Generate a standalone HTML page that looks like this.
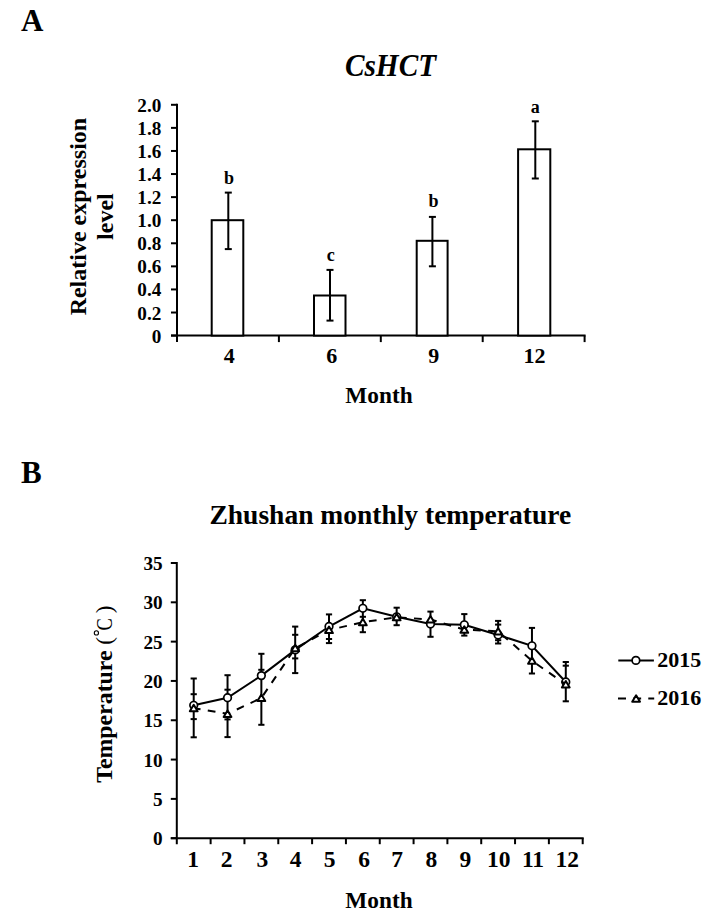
<!DOCTYPE html>
<html><head><meta charset="utf-8"><style>
html,body{margin:0;padding:0;background:#fff;}
svg{display:block;}
.t{font-family:"Liberation Serif", serif;fill:#000;stroke:none;}
.tk{font-size:19.2px;font-weight:bold;}
.xl{font-size:22px;font-weight:bold;}
.xlb{font-size:23.5px;font-weight:bold;}
.lab{font-size:18px;font-weight:bold;}
.ttl{font-size:23.3px;font-weight:bold;}
.yt{font-size:24px;font-weight:bold;}
.tt2{font-size:23.8px;font-weight:bold;}
.ti{font-size:31.5px;font-weight:bold;font-style:italic;}
.pl{font-size:31px;font-weight:bold;}
.bt{font-size:27.5px;font-weight:bold;}
.lg{font-size:22px;font-weight:bold;}
.ttr{font-size:23px;font-weight:normal;}
</style></head><body>
<svg width="716" height="917" viewBox="0 0 716 917" stroke="#000" stroke-width="2" fill="none">
<rect x="0" y="0" width="716" height="917" fill="#fff" stroke="none"/>
<line x1="177.0" y1="103.8" x2="177.0" y2="342.1" />
<line x1="171.0" y1="335.6" x2="585.6" y2="335.6" />
<line x1="171.0" y1="335.60" x2="177.0" y2="335.60" />
<line x1="171.0" y1="312.52" x2="177.0" y2="312.52" />
<line x1="171.0" y1="289.44" x2="177.0" y2="289.44" />
<line x1="171.0" y1="266.36" x2="177.0" y2="266.36" />
<line x1="171.0" y1="243.28" x2="177.0" y2="243.28" />
<line x1="171.0" y1="220.20" x2="177.0" y2="220.20" />
<line x1="171.0" y1="197.12" x2="177.0" y2="197.12" />
<line x1="171.0" y1="174.04" x2="177.0" y2="174.04" />
<line x1="171.0" y1="150.96" x2="177.0" y2="150.96" />
<line x1="171.0" y1="127.88" x2="177.0" y2="127.88" />
<line x1="171.0" y1="104.80" x2="177.0" y2="104.80" />
<line x1="278.90" y1="335.6" x2="278.90" y2="342.1" />
<line x1="380.80" y1="335.6" x2="380.80" y2="342.1" />
<line x1="482.70" y1="335.6" x2="482.70" y2="342.1" />
<line x1="584.60" y1="335.6" x2="584.60" y2="342.1" />
<rect x="211.70" y="220.20" width="31.60" height="115.40" fill="#fff" />
<line x1="228.30" y1="192.60" x2="228.30" y2="249.10" />
<line x1="224.80" y1="192.60" x2="231.80" y2="192.60" />
<line x1="224.80" y1="249.10" x2="231.80" y2="249.10" />
<text x="229.10" y="183.60" class="t lab" text-anchor="middle">b</text>
<rect x="314.00" y="295.50" width="31.50" height="40.10" fill="#fff" />
<line x1="330.00" y1="269.90" x2="330.00" y2="320.60" />
<line x1="326.50" y1="269.90" x2="333.50" y2="269.90" />
<line x1="326.50" y1="320.60" x2="333.50" y2="320.60" />
<text x="330.75" y="261.40" class="t lab" text-anchor="middle">c</text>
<rect x="416.70" y="240.80" width="30.90" height="94.80" fill="#fff" />
<line x1="432.40" y1="216.90" x2="432.40" y2="266.30" />
<line x1="428.90" y1="216.90" x2="435.90" y2="216.90" />
<line x1="428.90" y1="266.30" x2="435.90" y2="266.30" />
<text x="433.40" y="207.10" class="t lab" text-anchor="middle">b</text>
<rect x="518.10" y="149.30" width="32.20" height="186.30" fill="#fff" />
<line x1="535.30" y1="121.30" x2="535.30" y2="178.50" />
<line x1="531.80" y1="121.30" x2="538.80" y2="121.30" />
<line x1="531.80" y1="178.50" x2="538.80" y2="178.50" />
<text x="535.30" y="113.10" class="t lab" text-anchor="middle">a</text>
<text x="161.3" y="342.60" class="t tk" text-anchor="end">0</text>
<text x="161.3" y="319.52" class="t tk" text-anchor="end">0.2</text>
<text x="161.3" y="296.44" class="t tk" text-anchor="end">0.4</text>
<text x="161.3" y="273.36" class="t tk" text-anchor="end">0.6</text>
<text x="161.3" y="250.28" class="t tk" text-anchor="end">0.8</text>
<text x="161.3" y="227.20" class="t tk" text-anchor="end">1.0</text>
<text x="161.3" y="204.12" class="t tk" text-anchor="end">1.2</text>
<text x="161.3" y="181.04" class="t tk" text-anchor="end">1.4</text>
<text x="161.3" y="157.96" class="t tk" text-anchor="end">1.6</text>
<text x="161.3" y="134.88" class="t tk" text-anchor="end">1.8</text>
<text x="161.3" y="111.80" class="t tk" text-anchor="end">2.0</text>
<text x="229.20" y="362.8" class="t xl" text-anchor="middle">4</text>
<text x="331.65" y="362.8" class="t xl" text-anchor="middle">6</text>
<text x="433.70" y="362.8" class="t xl" text-anchor="middle">9</text>
<text x="534.50" y="362.8" class="t xl" text-anchor="middle">12</text>
<text x="379" y="402.5" class="t ttl" text-anchor="middle">Month</text>
<text transform="translate(86,216.6) rotate(-90)" class="t yt" text-anchor="middle">Relative expression</text>
<text transform="translate(112.7,216.6) rotate(-90)" class="t yt" text-anchor="middle">level</text>
<text transform="translate(390.5,76.3) scale(0.93,1)" class="t ti" text-anchor="middle">CsHCT</text>
<text x="21" y="31" class="t pl">A</text>
<text x="21" y="482.6" class="t pl">B</text>
<text x="390.3" y="524.3" class="t bt" text-anchor="middle">Zhushan monthly temperature</text>
<line x1="176.8" y1="562.0" x2="176.8" y2="844.2" />
<line x1="170.8" y1="838.2" x2="583.7" y2="838.2" />
<line x1="170.8" y1="838.20" x2="176.8" y2="838.20" />
<text x="162.6" y="845.30" class="t tk" text-anchor="end">0</text>
<line x1="170.8" y1="798.89" x2="176.8" y2="798.89" />
<text x="162.6" y="805.99" class="t tk" text-anchor="end">5</text>
<line x1="170.8" y1="759.57" x2="176.8" y2="759.57" />
<text x="162.6" y="766.67" class="t tk" text-anchor="end">10</text>
<line x1="170.8" y1="720.26" x2="176.8" y2="720.26" />
<text x="162.6" y="727.36" class="t tk" text-anchor="end">15</text>
<line x1="170.8" y1="680.94" x2="176.8" y2="680.94" />
<text x="162.6" y="688.04" class="t tk" text-anchor="end">20</text>
<line x1="170.8" y1="641.63" x2="176.8" y2="641.63" />
<text x="162.6" y="648.73" class="t tk" text-anchor="end">25</text>
<line x1="170.8" y1="602.31" x2="176.8" y2="602.31" />
<text x="162.6" y="609.41" class="t tk" text-anchor="end">30</text>
<line x1="170.8" y1="563.00" x2="176.8" y2="563.00" />
<text x="162.6" y="570.10" class="t tk" text-anchor="end">35</text>
<line x1="210.62" y1="838.2" x2="210.62" y2="844.2" />
<line x1="244.45" y1="838.2" x2="244.45" y2="844.2" />
<line x1="278.28" y1="838.2" x2="278.28" y2="844.2" />
<line x1="312.10" y1="838.2" x2="312.10" y2="844.2" />
<line x1="345.93" y1="838.2" x2="345.93" y2="844.2" />
<line x1="379.75" y1="838.2" x2="379.75" y2="844.2" />
<line x1="413.58" y1="838.2" x2="413.58" y2="844.2" />
<line x1="447.40" y1="838.2" x2="447.40" y2="844.2" />
<line x1="481.23" y1="838.2" x2="481.23" y2="844.2" />
<line x1="515.05" y1="838.2" x2="515.05" y2="844.2" />
<line x1="548.88" y1="838.2" x2="548.88" y2="844.2" />
<line x1="582.70" y1="838.2" x2="582.70" y2="844.2" />
<text x="193.01" y="867.2" class="t xlb" text-anchor="middle">1</text>
<text x="226.74" y="867.2" class="t xlb" text-anchor="middle">2</text>
<text x="262.26" y="867.2" class="t xlb" text-anchor="middle">3</text>
<text x="295.74" y="867.2" class="t xlb" text-anchor="middle">4</text>
<text x="329.61" y="867.2" class="t xlb" text-anchor="middle">5</text>
<text x="364.19" y="867.2" class="t xlb" text-anchor="middle">6</text>
<text x="397.11" y="867.2" class="t xlb" text-anchor="middle">7</text>
<text x="431.34" y="867.2" class="t xlb" text-anchor="middle">8</text>
<text x="465.31" y="867.2" class="t xlb" text-anchor="middle">9</text>
<text x="498.84" y="867.2" class="t xlb" text-anchor="middle">10</text>
<text x="533.01" y="867.2" class="t xlb" text-anchor="middle">11</text>
<text x="567.24" y="867.2" class="t xlb" text-anchor="middle">12</text>
<text x="379" y="907.5" class="t ttl" text-anchor="middle">Month</text>
<line x1="193.71" y1="678.50" x2="193.71" y2="737.30" />
<line x1="190.61" y1="678.50" x2="196.81" y2="678.50" />
<line x1="190.61" y1="694.20" x2="196.81" y2="694.20" />
<line x1="190.61" y1="719.10" x2="196.81" y2="719.10" />
<line x1="190.61" y1="737.30" x2="196.81" y2="737.30" />
<line x1="227.54" y1="675.20" x2="227.54" y2="737.10" />
<line x1="224.44" y1="675.20" x2="230.64" y2="675.20" />
<line x1="224.44" y1="689.70" x2="230.64" y2="689.70" />
<line x1="224.44" y1="719.40" x2="230.64" y2="719.40" />
<line x1="224.44" y1="737.10" x2="230.64" y2="737.10" />
<line x1="261.36" y1="653.80" x2="261.36" y2="724.80" />
<line x1="258.26" y1="653.80" x2="264.46" y2="653.80" />
<line x1="258.26" y1="669.80" x2="264.46" y2="669.80" />
<line x1="258.26" y1="724.80" x2="264.46" y2="724.80" />
<line x1="295.19" y1="626.60" x2="295.19" y2="673.10" />
<line x1="292.09" y1="626.60" x2="298.29" y2="626.60" />
<line x1="292.09" y1="634.80" x2="298.29" y2="634.80" />
<line x1="292.09" y1="658.40" x2="298.29" y2="658.40" />
<line x1="292.09" y1="673.10" x2="298.29" y2="673.10" />
<line x1="329.01" y1="614.40" x2="329.01" y2="643.10" />
<line x1="325.91" y1="614.40" x2="332.11" y2="614.40" />
<line x1="325.91" y1="639.00" x2="332.11" y2="639.00" />
<line x1="325.91" y1="643.10" x2="332.11" y2="643.10" />
<line x1="362.84" y1="600.20" x2="362.84" y2="632.20" />
<line x1="359.74" y1="600.20" x2="365.94" y2="600.20" />
<line x1="359.74" y1="616.80" x2="365.94" y2="616.80" />
<line x1="359.74" y1="632.20" x2="365.94" y2="632.20" />
<line x1="396.66" y1="607.70" x2="396.66" y2="625.20" />
<line x1="393.56" y1="607.70" x2="399.76" y2="607.70" />
<line x1="393.56" y1="625.20" x2="399.76" y2="625.20" />
<line x1="430.49" y1="611.60" x2="430.49" y2="636.80" />
<line x1="427.39" y1="611.60" x2="433.59" y2="611.60" />
<line x1="427.39" y1="636.80" x2="433.59" y2="636.80" />
<line x1="464.31" y1="614.10" x2="464.31" y2="635.60" />
<line x1="461.21" y1="614.10" x2="467.41" y2="614.10" />
<line x1="461.21" y1="635.60" x2="467.41" y2="635.60" />
<line x1="498.14" y1="620.90" x2="498.14" y2="643.50" />
<line x1="495.04" y1="620.90" x2="501.24" y2="620.90" />
<line x1="495.04" y1="624.60" x2="501.24" y2="624.60" />
<line x1="495.04" y1="640.20" x2="501.24" y2="640.20" />
<line x1="495.04" y1="643.50" x2="501.24" y2="643.50" />
<line x1="531.96" y1="627.90" x2="531.96" y2="673.50" />
<line x1="528.86" y1="627.90" x2="535.06" y2="627.90" />
<line x1="528.86" y1="673.50" x2="535.06" y2="673.50" />
<line x1="565.79" y1="662.00" x2="565.79" y2="701.30" />
<line x1="562.69" y1="662.00" x2="568.89" y2="662.00" />
<line x1="562.69" y1="665.70" x2="568.89" y2="665.70" />
<line x1="562.69" y1="701.30" x2="568.89" y2="701.30" />
<polyline points="193.71,705.30 227.54,697.75 261.36,675.60 295.19,649.90 329.01,626.50 362.84,608.30 396.66,616.80 430.49,624.00 464.31,624.80 498.14,635.00 531.96,645.80 565.79,682.00" fill="none" />
<circle cx="193.71" cy="705.30" r="3.8" stroke-width="1.7" fill="#fff" />
<circle cx="227.54" cy="697.75" r="3.8" stroke-width="1.7" fill="#fff" />
<circle cx="261.36" cy="675.60" r="3.8" stroke-width="1.7" fill="#fff" />
<circle cx="295.19" cy="649.90" r="3.8" stroke-width="1.7" fill="#fff" />
<circle cx="329.01" cy="626.50" r="3.8" stroke-width="1.7" fill="#fff" />
<circle cx="362.84" cy="608.30" r="3.8" stroke-width="1.7" fill="#fff" />
<circle cx="396.66" cy="616.80" r="3.8" stroke-width="1.7" fill="#fff" />
<circle cx="430.49" cy="624.00" r="3.8" stroke-width="1.7" fill="#fff" />
<circle cx="464.31" cy="624.80" r="3.8" stroke-width="1.7" fill="#fff" />
<circle cx="498.14" cy="635.00" r="3.8" stroke-width="1.7" fill="#fff" />
<circle cx="531.96" cy="645.80" r="3.8" stroke-width="1.7" fill="#fff" />
<circle cx="565.79" cy="682.00" r="3.8" stroke-width="1.7" fill="#fff" />
<polyline points="193.71,708.20 227.54,713.80 261.36,698.00 295.19,648.20 329.01,630.00 362.84,622.20 396.66,617.25 430.49,619.45 464.31,629.70 498.14,631.30 531.96,660.75 565.79,684.35" fill="none" stroke-dasharray="7.8,7.34" stroke-dashoffset="0.9" />
<path d="M193.71,704.80 L197.61,711.30 L189.81,711.30 Z" stroke-linejoin="round" fill="#fff" />
<path d="M227.54,710.40 L231.44,716.90 L223.64,716.90 Z" stroke-linejoin="round" fill="#fff" />
<path d="M261.36,694.60 L265.26,701.10 L257.46,701.10 Z" stroke-linejoin="round" fill="#fff" />
<path d="M295.19,644.80 L299.09,651.30 L291.29,651.30 Z" stroke-linejoin="round" fill="#fff" />
<path d="M329.01,626.60 L332.91,633.10 L325.11,633.10 Z" stroke-linejoin="round" fill="#fff" />
<path d="M362.84,618.80 L366.74,625.30 L358.94,625.30 Z" stroke-linejoin="round" fill="#fff" />
<path d="M396.66,613.85 L400.56,620.35 L392.76,620.35 Z" stroke-linejoin="round" fill="#fff" />
<path d="M430.49,616.05 L434.39,622.55 L426.59,622.55 Z" stroke-linejoin="round" fill="#fff" />
<path d="M464.31,626.30 L468.21,632.80 L460.41,632.80 Z" stroke-linejoin="round" fill="#fff" />
<path d="M498.14,627.90 L502.04,634.40 L494.24,634.40 Z" stroke-linejoin="round" fill="#fff" />
<path d="M531.96,657.35 L535.86,663.85 L528.06,663.85 Z" stroke-linejoin="round" fill="#fff" />
<path d="M565.79,680.95 L569.69,687.45 L561.89,687.45 Z" stroke-linejoin="round" fill="#fff" />
<line x1="618.3" y1="660.4" x2="653.9" y2="660.4" />
<circle cx="635.9" cy="660.4" r="3.8" stroke-width="1.7" fill="#fff" />
<text x="657.3" y="667.4" class="t lg">2015</text>
<line x1="618" y1="698.6" x2="654.2" y2="698.6" stroke-dasharray="8,7.14" />
<path d="M636.10,695.25 L640.00,701.75 L632.20,701.75 Z" stroke-linejoin="round" fill="#fff" />
<text x="657.3" y="705.3" class="t lg">2016</text>
<text transform="translate(111.8,782.7) rotate(-90)" class="t tt2">Temperature</text>
<g transform="translate(111.8,782.7) rotate(-90)"><text x="138" y="0" class="t ttr">(</text><text transform="translate(152.2,0) scale(0.8,1)" class="t ttr">C</text><text x="169.4" y="0" class="t ttr">)</text></g>
<circle cx="96.4" cy="632.9" r="2.1" stroke-width="1.1" />
</svg>
</body></html>
